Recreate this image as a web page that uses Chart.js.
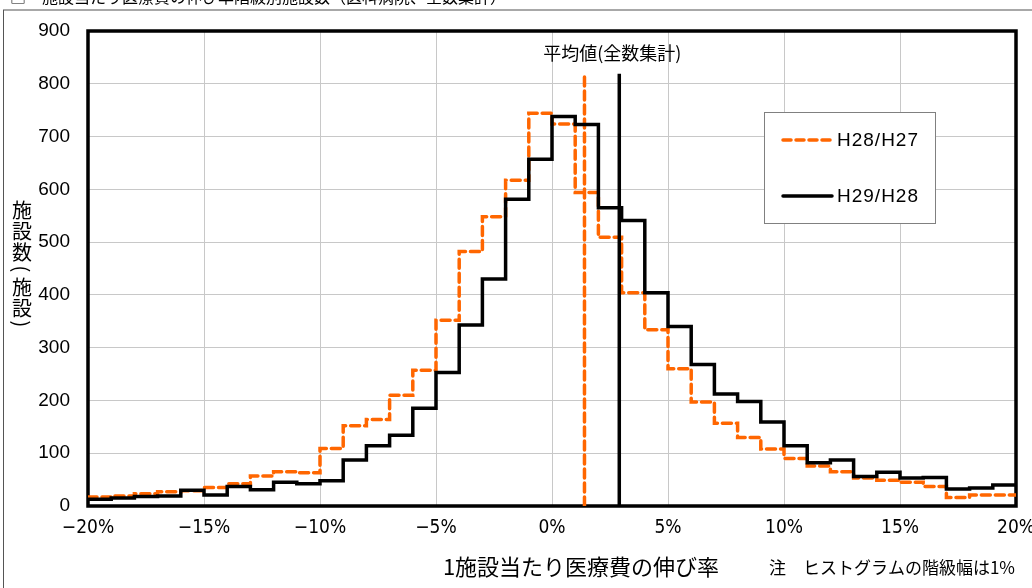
<!DOCTYPE html>
<html>
<head>
<meta charset="utf-8">
<script src="https://cdn.jsdelivr.net/npm/chart.js@4.4.1/dist/chart.umd.min.js"></script>
<style>
  html, body { margin: 0; padding: 0; background: #fff; }
  #wrap { position: relative; width: 1032px; height: 588px; }
  canvas { display: block; }
</style>
</head>
<body>
<div id="wrap"><canvas id="c" width="1032" height="588"></canvas></div>
<script>
// ---- data ----
const binStarts = [-20,-19,-18,-17,-16,-15,-14,-13,-12,-11,-10,-9,-8,-7,-6,-5,-4,-3,-2,-1,0,1,2,3,4,5,6,7,8,9,10,11,12,13,14,15,16,17,18,19];
const seriesH28H27 = [17,19,23,27,29,35,42,57,65,63,109,152,164,210,257,352,482,548,617,744,724,594,509,404,334,260,197,157,130,108,90,76,65,53,49,45,37,16,21,21];
const seriesH29H28 = [13,15,18,19,30,21,37,31,45,42,48,87,114,134,185,253,343,430,581,657,738,723,565,541,404,340,268,212,198,159,114,82,87,56,64,53,54,32,34,40];
const seriesNames = ['H28/H27', 'H29/H28'];
const meanValues = [1.4, 2.9];          // 平均値(全数集計)
const meanTop = [813, 819];
const xTicks = [-20,-15,-10,-5,0,5,10,15,20];
const yTicks = [0,100,200,300,400,500,600,700,800,900];
const titleText = '施設当たり医療費の伸び率階級別施設数（医科病院、全数集計）';
const yTitleChars = ['施','設','数','(','施','設',')'];
const xTitle = '1施設当たり医療費の伸び率';
const noteText = '注　ヒストグラムの階級幅は1%';
const meanLabel = '平均値(全数集計)';

const ORANGE = '#FF6600';
const JP = '"Noto Sans CJK JP", sans-serif';

// each bin value is attached to the bin's right edge; the first point opens the line at the left edge
function stepPoints(vals) {
  const pts = [{x: binStarts[0], y: vals[0]}];
  binStarts.forEach((x, i) => pts.push({x: x + 1, y: vals[i]}));
  return pts;
}

const decor = {
  id: 'decor',
  beforeDraw(chart) {
    const ctx = chart.ctx;
    ctx.save();
    ctx.fillStyle = '#fff';
    ctx.fillRect(0, 0, chart.width, chart.height);
    // clipped title (only its lower edge is visible)
    ctx.fillStyle = '#000';
    ctx.font = '16px ' + JP;
    ctx.textBaseline = 'alphabetic';
    ctx.textAlign = 'left';
    ctx.fillText('□', 10, 3);
    ctx.fillText(titleText, 42, 3);
    // outer frame
    ctx.strokeStyle = '#a8a8a8';
    ctx.lineWidth = 2;
    ctx.beginPath(); ctx.moveTo(3, 10); ctx.lineTo(1032, 10); ctx.stroke();
    ctx.strokeStyle = '#555';
    ctx.lineWidth = 1;
    ctx.beginPath(); ctx.moveTo(3.5, 10); ctx.lineTo(3.5, 588); ctx.stroke();
    ctx.restore();
  },
  beforeDatasetsDraw(chart) {
    const ctx = chart.ctx, a = chart.chartArea;
    ctx.save();
    ctx.strokeStyle = '#000';
    ctx.lineWidth = 3.5;
    ctx.strokeRect(a.left, a.top, a.right - a.left, a.bottom - a.top);
    ctx.restore();
  },
  afterDraw(chart) {
    const ctx = chart.ctx, a = chart.chartArea;
    const xs = chart.scales.x;
    ctx.save();
    // y-axis title, vertical
    ctx.fillStyle = '#000';
    ctx.font = '20px ' + JP;
    ctx.textAlign = 'center';
    ctx.textBaseline = 'middle';
    const ys = [210, 231, 252, 269, 287, 308, 324];
    yTitleChars.forEach((ch, i) => {
      if (ch === '(' || ch === ')') {
        ctx.save();
        ctx.translate(22, ys[i]);
        ctx.rotate(Math.PI / 2);
        ctx.fillText(ch, 0, 0);
        ctx.restore();
      } else {
        ctx.fillText(ch, 22, ys[i]);
      }
    });
    // x-axis title & note
    ctx.font = '22px ' + JP;
    ctx.textAlign = 'center';
    ctx.fillText(xTitle, 581, 567);
    ctx.font = '17px ' + JP;
    ctx.textAlign = 'right';
    ctx.fillText(noteText, 1015, 568);
    // mean label
    ctx.font = '18px ' + JP;
    ctx.textAlign = 'center';
    ctx.fillText(meanLabel, xs.getPixelForValue(2.6), 53);
    // legend
    const lx = 764, ly = 112, lw = 171, lh = 111;
    ctx.fillStyle = '#fff';
    ctx.fillRect(lx, ly, lw, lh);
    ctx.strokeStyle = '#808080';
    ctx.lineWidth = 1;
    ctx.strokeRect(lx + 0.5, ly + 0.5, lw, lh);
    ctx.lineWidth = 3.5;
    ctx.strokeStyle = ORANGE;
    ctx.setLineDash([8, 5]);
    ctx.lineCap = 'round';
    ctx.beginPath(); ctx.moveTo(783, 140); ctx.lineTo(832, 140); ctx.stroke();
    ctx.setLineDash([]);
    ctx.strokeStyle = '#000';
    ctx.beginPath(); ctx.moveTo(783, 196); ctx.lineTo(832, 196); ctx.stroke();
    ctx.fillStyle = '#000';
    ctx.font = '19px "Liberation Sans", sans-serif';
    ctx.textAlign = 'left';
    ctx.textBaseline = 'middle';
    try { ctx.letterSpacing = '1px'; } catch (e) {}
    ctx.fillText(seriesNames[0], 837, 141);
    ctx.fillText(seriesNames[1], 837, 197);
    ctx.restore();
  }
};

new Chart(document.getElementById('c'), {
  type: 'line',
  data: {
    datasets: [
      {
        label: seriesNames[0],
        data: stepPoints(seriesH28H27),
        stepped: 'after',
        borderColor: ORANGE,
        borderWidth: 3.5,
        borderDash: [9, 5],
        borderCapStyle: 'round',
        pointRadius: 0,
        fill: false,
        order: 2
      },
      {
        label: seriesNames[1],
        data: stepPoints(seriesH29H28),
        stepped: 'after',
        borderColor: '#000',
        borderWidth: 3.5,
        pointRadius: 0,
        fill: false,
        order: 1
      },
      {
        label: 'mean ' + seriesNames[0],
        data: [{x: meanValues[0], y: 0}, {x: meanValues[0], y: meanTop[0]}],
        borderColor: ORANGE,
        borderWidth: 3.5,
        borderDash: [9, 5],
        borderCapStyle: 'round',
        pointRadius: 0,
        fill: false,
        order: 3
      },
      {
        label: 'mean ' + seriesNames[1],
        data: [{x: meanValues[1], y: 0}, {x: meanValues[1], y: meanTop[1]}],
        borderColor: '#000',
        borderWidth: 3.5,
        pointRadius: 0,
        fill: false,
        order: 0
      }
    ]
  },
  options: {
    responsive: false,
    animation: false,
    devicePixelRatio: 1,
    layout: { padding: { top: 31, right: 16, left: 0, bottom: 0 } },
    plugins: { legend: { display: false }, tooltip: { enabled: false }, title: { display: false } },
    scales: {
      x: {
        type: 'linear',
        min: -20, max: 20,
        afterFit(s) { s.height = 82; s.paddingLeft = 0; s.paddingRight = 0; },
        afterBuildTicks(s) { s.ticks = xTicks.map(v => ({value: v})); },
        grid: { color: '#c8c8c8', lineWidth: 1, drawTicks: false },
        border: { display: false },
        ticks: {
          padding: 11,
          color: '#000',
          font: { family: '"Liberation Sans Narrow", "DejaVu Sans Condensed", sans-serif', size: 19 },
          callback: v => (v < 0 ? '\u2212' + Math.abs(v) : String(v)) + '%',
          maxRotation: 0
        }
      },
      y: {
        type: 'linear',
        min: 0, max: 900,
        afterFit(s) { s.width = 88; s.paddingTop = 0; s.paddingBottom = 0; },
        afterBuildTicks(s) { s.ticks = yTicks.map(v => ({value: v})); },
        grid: { color: '#c8c8c8', lineWidth: 1, drawTicks: false },
        border: { display: false },
        ticks: {
          padding: 18,
          color: '#000',
          font: { family: '"Liberation Sans", Arial, sans-serif', size: 19 }
        }
      }
    }
  },
  plugins: [decor]
});
</script>
</body>
</html>
